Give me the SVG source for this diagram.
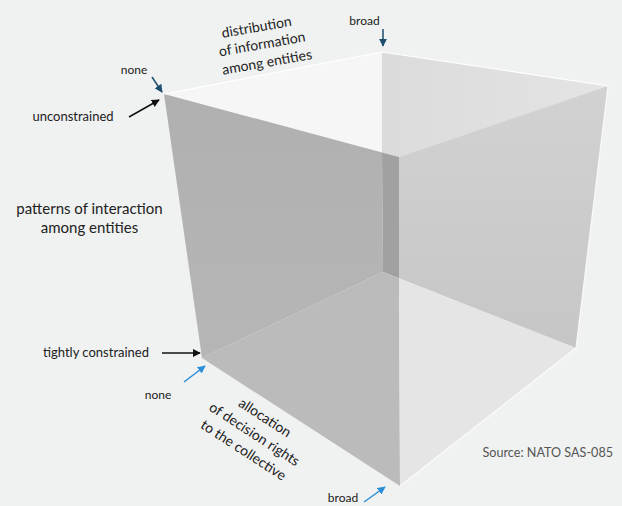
<svg xmlns="http://www.w3.org/2000/svg" width="622" height="506" viewBox="0 0 622 506">
  <defs>
    <style>
      .lbl { font-family: Lato, "Open Sans", "Liberation Sans", sans-serif; fill: #222; }
      .s12 { font-size: 12px; }
      .s13 { font-size: 13px; }
      .s14 { font-size: 14px; }
      .s15 { font-size: 15px; }
      .src { font-family: Lato, "Open Sans", "Liberation Sans", sans-serif; font-size: 12.6px; fill: #555; }
      .edge { fill: none; stroke: #ffffff; stroke-width: 1.2; stroke-linejoin: round; }
      .arr { fill: none; stroke-width: 1.5; }
    </style>
    <marker id="headDark" viewBox="0 0 10 10" refX="9" refY="5" markerWidth="8" markerHeight="8" markerUnits="userSpaceOnUse" orient="auto">
      <path d="M0,0 L10,5 L0,10 z" fill="#1d4e6e"/>
    </marker>
    <marker id="headBlack" viewBox="0 0 10 10" refX="9" refY="5" markerWidth="8" markerHeight="8" markerUnits="userSpaceOnUse" orient="auto">
      <path d="M0,0 L10,5 L0,10 z" fill="#111"/>
    </marker>
    <marker id="headBlue" viewBox="0 0 10 10" refX="9" refY="5" markerWidth="8" markerHeight="8" markerUnits="userSpaceOnUse" orient="auto">
      <path d="M0,0 L10,5 L0,10 z" fill="#2b8fd8"/>
    </marker>
    <linearGradient id="gTopR" x1="0" y1="0" x2="1" y2="0">
      <stop offset="0" stop-color="#dbdbdb"/>
      <stop offset="1" stop-color="#e4e4e4"/>
    </linearGradient>
    <linearGradient id="gRight" x1="0" y1="0" x2="0" y2="1">
      <stop offset="0" stop-color="#d2d2d2"/>
      <stop offset="1" stop-color="#c6c6c6"/>
    </linearGradient>
    <linearGradient id="gLeft" x1="0" y1="0" x2="0" y2="1">
      <stop offset="0" stop-color="#b0b0b0"/>
      <stop offset="1" stop-color="#b6b6b6"/>
    </linearGradient>
  </defs>

  <rect width="622" height="506" fill="#f0f1f1"/>

  <!-- transparent cube drawn as its visible regions -->
  <g id="cube">
    <!-- top face, left of the back edge -->
    <polygon points="164,94 382,52 382,152.4" fill="#f6f6f6"/>
    <!-- top face, right of the back edge -->
    <polygon points="382,52 608,86 399,157 382,152.4" fill="url(#gTopR)"/>
    <!-- left front face, upper part -->
    <polygon points="164,94 382,152.4 383,272 202,358" fill="url(#gLeft)"/>
    <!-- back vertical edge seen through the front corner -->
    <polygon points="382,152.4 399,157 399,278.3 383,272" fill="#a1a1a1"/>
    <!-- left front face, lower part (floor behind) -->
    <polygon points="202,358 383,272 399,278.3 400,486" fill="#bbbbbb"/>
    <!-- right front face, upper part -->
    <polygon points="399,157 608,86 576,348 399,278.3" fill="url(#gRight)"/>
    <!-- right front face, lower part (floor behind) -->
    <polygon points="399,278.3 576,348 400,486" fill="#e5e5e5"/>
    <!-- highlighted outer edges -->
    <polyline class="edge" points="164,94 382,52 608,86"/>
    <polyline class="edge" points="608,86 576,348 400,486" stroke-opacity="0.8"/>
  </g>

  <!-- connectors -->
  <g id="connectors">
    <line class="arr" x1="152" y1="77" x2="162" y2="92" stroke="#1d4e6e" marker-end="url(#headDark)"/>
    <line class="arr" x1="383" y1="29" x2="383" y2="46" stroke="#1d4e6e" marker-end="url(#headDark)"/>
    <line class="arr" x1="129" y1="117" x2="159" y2="100" stroke="#111" marker-end="url(#headBlack)"/>
    <line class="arr" x1="162" y1="353" x2="200" y2="353" stroke="#111" marker-end="url(#headBlack)"/>
    <line class="arr" x1="184" y1="382" x2="205" y2="366" stroke="#2b8fd8" marker-end="url(#headBlue)"/>
    <line class="arr" x1="364" y1="502" x2="385" y2="487" stroke="#2b8fd8" marker-end="url(#headBlue)"/>
  </g>

  <!-- axis: distribution of information -->
  <g id="axis-information" class="lbl s14" text-anchor="middle">
    <text transform="translate(256.5,27) rotate(-10)" dy="0.35em">distribution</text>
    <text transform="translate(262,44) rotate(-10)" dy="0.35em">of information</text>
    <text transform="translate(267,62) rotate(-10)" dy="0.35em">among entities</text>
  </g>
  <g id="info-broad" class="lbl s12"><text x="364.5" y="25" text-anchor="middle">broad</text></g>
  <g id="info-none" class="lbl s12"><text x="134" y="74" text-anchor="middle">none</text></g>

  <!-- axis: patterns of interaction -->
  <g id="axis-interaction" class="lbl s15" text-anchor="middle">
    <text x="89.5" y="214">patterns of interaction</text>
    <text x="89.5" y="233">among entities</text>
  </g>
  <g id="interaction-unconstrained" class="lbl s13"><text x="73" y="121" text-anchor="middle">unconstrained</text></g>
  <g id="interaction-tight" class="lbl s13"><text x="96" y="357" text-anchor="middle">tightly constrained</text></g>

  <!-- axis: allocation of decision rights -->
  <g id="axis-decision" class="lbl s14" text-anchor="middle">
    <text transform="translate(265,417.5) rotate(33)" dy="0.35em">allocation</text>
    <text transform="translate(254.5,434) rotate(33)" dy="0.35em">of decision rights</text>
    <text transform="translate(243.5,450) rotate(33)" dy="0.35em">to the collective</text>
  </g>
  <g id="decision-none" class="lbl s12"><text x="158" y="399" text-anchor="middle">none</text></g>
  <g id="decision-broad" class="lbl s12"><text x="343" y="502" text-anchor="middle">broad</text></g>

  <g id="source"><text class="src" x="613" y="457" text-anchor="end">Source: NATO SAS-085</text></g>
</svg>
